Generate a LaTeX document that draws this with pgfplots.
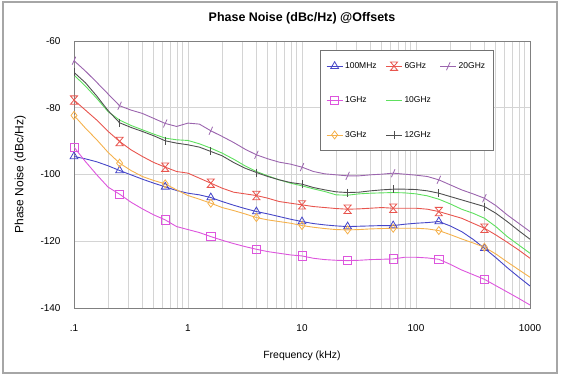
\documentclass[border=0pt]{standalone}
\usepackage{pgfplots}
\pgfplotsset{compat=1.18}
\usepackage{pgfplotstable}
\usepackage{fontspec}
\setmainfont{Liberation Sans}

\definecolor{cA}{HTML}{4646C8}
\definecolor{cB}{HTML}{DD55DD}
\definecolor{cC}{HTML}{F5B14C}
\definecolor{cD}{HTML}{E8554E}
\definecolor{cE}{HTML}{5EE05E}
\definecolor{cF}{HTML}{505050}
\definecolor{cG}{HTML}{9B65AE}

\pgfdeclareplotmark{hourglass}{%
  \pgfpathmoveto{\pgfqpoint{-0.85\pgfplotmarksize}{\pgfplotmarksize}}%
  \pgfpathlineto{\pgfqpoint{0.85\pgfplotmarksize}{\pgfplotmarksize}}%
  \pgfpathlineto{\pgfqpoint{-0.85\pgfplotmarksize}{-\pgfplotmarksize}}%
  \pgfpathlineto{\pgfqpoint{0.85\pgfplotmarksize}{-\pgfplotmarksize}}%
  \pgfpathclose
  \pgfusepathqstroke}
\pgfdeclareplotmark{slash}{%
  \pgfpathmoveto{\pgfqpoint{-0.45\pgfplotmarksize}{-\pgfplotmarksize}}%
  \pgfpathlineto{\pgfqpoint{0.45\pgfplotmarksize}{\pgfplotmarksize}}%
  \pgfusepathqstroke}

% f, 100MHz, 1GHz, 3GHz, 6GHz, 10GHz, 12GHz, 20GHz
\pgfplotstableread{
f      a       b       c       d       e       g       h
0.1    -94.6   -91.8   -82.3   -77.7   -70.2   -69.4   -65.9
0.1259 -95.3   -96.1   -86.1   -80.7   -73.5   -72.5   -69.0
0.1585 -96.2   -100.1  -89.6   -83.7   -77.2   -76.5   -72.4
0.1995 -97.4   -103.8  -93.4   -87.1   -81.2   -80.9   -75.9
0.2512 -98.8   -105.9  -96.6   -90.1   -83.7   -84.5   -79.4
0.3162 -100.1  -108.3  -98.8   -92.6   -85.3   -85.9   -80.7
0.3981 -101.4  -110.3  -100.6  -94.6   -86.6   -87.1   -81.7
0.5012 -102.6  -112.1  -101.8  -96.4   -87.9   -88.4   -83.2
0.631  -103.7  -113.6  -102.8  -97.8   -89.1   -89.9   -84.7
0.7943 -104.8  -115.6  -104.6  -99.1   -89.6   -90.6   -85.6
1      -105.6  -116.5  -106.3  -99.6   -89.8   -91.1   -84.6
1.259  -106.1  -117.4  -107.4  -101.1  -90.8   -91.8   -84.9
1.585  -106.9  -118.6  -108.6  -102.6  -92.1   -93.1   -86.9
1.995  -108.1  -119.7  -109.9  -104.1  -93.6   -94.4   -88.6
2.512  -109.2  -120.7  -110.8  -105.3  -95.4   -96.4   -90.4
3.162  -110.2  -121.6  -111.8  -105.8  -97.4   -98.1   -92.4
3.981  -111.1  -122.4  -112.9  -106.3  -99.1   -99.4   -94.1
5.012  -111.8  -123.1  -113.6  -107.1  -100.4  -100.6  -95.3
6.31   -112.6  -123.6  -114.1  -108.1  -101.6  -101.6  -96.3
7.943  -113.4  -124.1  -114.6  -108.6  -102.6  -102.4  -96.9
10     -114.1  -124.4  -115.3  -109.1  -103.4  -102.9  -97.8
12.59  -114.7  -125.1  -115.8  -109.6  -104.3  -103.9  -99.1
15.85  -115.1  -125.5  -116.2  -109.9  -105.1  -104.6  -99.8
19.95  -115.4  -125.7  -116.5  -110.2  -106.1  -105.2  -100.1
25.12  -115.6  -125.8  -116.6  -110.4  -106.2  -105.4  -100.4
31.62  -115.5  -125.7  -116.5  -110.3  -105.8  -105.3  -100.4
39.81  -115.4  -125.5  -116.3  -110.1  -105.6  -104.9  -100.1
50.12  -115.3  -125.4  -116.2  -109.9  -105.5  -104.6  -99.9
63.1   -115.3  -125.3  -116.1  -110.1  -105.4  -104.4  -99.6
79.43  -114.9  -124.8  -116.1  -110.1  -105.5  -104.4  -99.9
100    -114.6  -124.8  -116.1  -110.1  -105.8  -104.5  -100.2
125.9  -114.4  -125.0  -116.3  -110.4  -106.4  -104.9  -100.6
158.5  -114.1  -125.4  -116.8  -111.1  -107.4  -105.6  -101.6
199.5  -115.4  -126.9  -118.0  -112.1  -108.8  -106.6  -103.1
251.2  -117.1  -128.6  -119.3  -113.1  -110.4  -107.6  -104.6
316.2  -119.4  -130.0  -120.5  -114.6  -111.6  -108.6  -105.8
398.1  -122.1  -131.4  -121.8  -116.1  -113.1  -109.6  -107.1
501.2  -124.9  -133.3  -123.8  -118.1  -115.6  -111.6  -109.3
631    -127.9  -135.2  -126.2  -120.3  -118.6  -114.1  -112.1
794.3  -130.7  -137.1  -128.5  -122.6  -121.1  -116.8  -114.6
1000   -133.4  -139.1  -130.8  -125.1  -123.6  -119.4  -117.1
}\tab

\begin{document}
\begin{tikzpicture}[x=1bp,y=1bp]
\useasboundingbox (0,0) rectangle (561,375);
\draw[line width=1.5bp, color=black!35] (3,2) rectangle (557,373);
\begin{axis}[
  at={(74bp,67bp)}, anchor=south west,
  scale only axis, width=456bp, height=267bp,
  xmode=log, xmin=0.1, xmax=1000, ymin=-140, ymax=-60,
  xtick={0.1,1,10,100,1000}, xticklabels={.1,1,10,100,1000},
  ytick={-140,-120,-100,-80,-60}, yticklabels={-140,-120,-100,-80,-60},
  xmajorgrids, xminorgrids, ymajorgrids,
  grid style={color=black!17, line width=0.6bp},
  minor grid style={color=black!17, line width=0.6bp},
  axis line style={color=black!50, line width=0.8bp},
  major tick length=0pt, minor tick length=0pt,
  tick label style={font=\fontsize{10}{12}\selectfont},
  xticklabel style={yshift=-13bp},
  yticklabel style={xshift=-10bp},
  xlabel={Frequency (kHz)}, ylabel={Phase Noise (dBc/Hz)},
  every axis x label/.style={at={(axis description cs:0.5,-0.18)}, anchor=center, font=\fontsize{10.5}{12}\selectfont},
  every axis y label/.style={at={(axis description cs:-0.118,0.5)}, rotate=90, anchor=center, font=\fontsize{12}{14}\selectfont},
  title={Phase Noise (dBc/Hz) @Offsets},
  every axis title/.style={at={(axis description cs:0.5,1)}, anchor=center, yshift=23bp, font=\bfseries\fontsize{12.5}{14}\selectfont},
  legend columns=3,
  legend cell align=left,
  legend style={at={(rel axis cs:0.539,0.966)}, anchor=north west,
    draw=black!55, line width=0.8bp, fill=white,
    font=\fontsize{8.5}{10}\selectfont,
    inner xsep=6bp, inner ysep=10bp, row sep=23bp,
    /tikz/every even column/.append style={column sep=7bp}},
  legend image code/.code={\draw[#1, mark indices={2}] plot coordinates {(0bp,0bp) (8bp,0bp) (16bp,0bp)};},
  every axis plot/.append style={line width=0.9bp},
  mark indices={1,5,9,13,17,21,25,29,33,37},
]
\addplot[cA, mark=triangle, mark size=4.5bp, mark options={solid,line width=0.8bp}] table[x=f,y=a]{\tab};
\addlegendentry{100MHz}
\addplot[cD, mark=hourglass, mark size=4.2bp, mark options={solid,line width=0.8bp}] table[x=f,y=d]{\tab};
\addlegendentry{6GHz}
\addplot[cG, mark=slash, mark size=4bp, mark options={solid,line width=0.8bp}] table[x=f,y=h]{\tab};
\addlegendentry{20GHz}
\addplot[cB, mark=square, mark size=4.1bp, mark options={solid,line width=0.8bp}] table[x=f,y=b]{\tab};
\addlegendentry{1GHz}
\addplot[cE, no marks] table[x=f,y=e]{\tab};
\addlegendentry{10GHz}
\addlegendimage{empty legend}
\addlegendentry{}
\addplot[cC, mark=diamond, mark size=4bp, mark options={solid,line width=0.8bp}] table[x=f,y=c]{\tab};
\addlegendentry{3GHz}
\addplot[cF, mark=|, mark size=4bp, mark options={solid,line width=0.8bp}] table[x=f,y=g]{\tab};
\addlegendentry{12GHz}
\end{axis}
\end{tikzpicture}
\end{document}
